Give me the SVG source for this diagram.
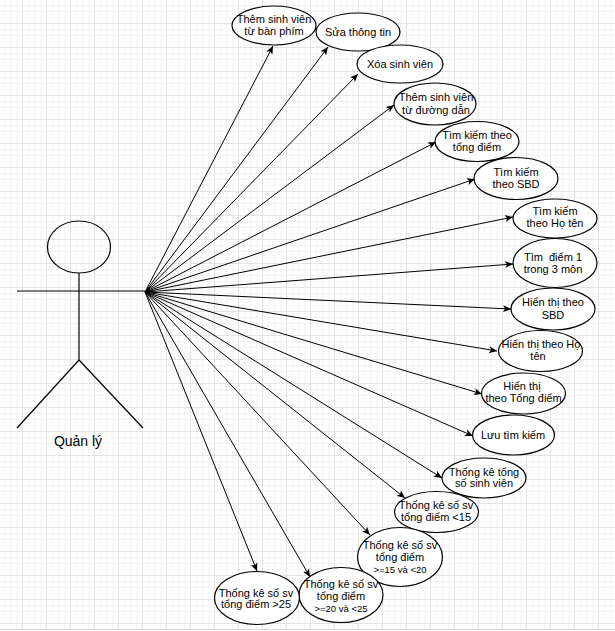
<svg xmlns="http://www.w3.org/2000/svg" width="615" height="631" viewBox="0 0 615 631">
<defs>
<pattern id="minor" x="22" y="23" width="6" height="6" patternUnits="userSpaceOnUse">
<rect x="0" y="0" width="1" height="6" fill="#f4f4f4"/>
<rect x="0" y="0" width="6" height="1" fill="#f4f4f4"/>
</pattern>
<pattern id="major" x="22" y="23" width="24" height="24" patternUnits="userSpaceOnUse">
<rect x="0" y="0" width="1" height="24" fill="#e3e3e3"/>
<rect x="0" y="0" width="24" height="1" fill="#e3e3e3"/>
</pattern>
<marker id="arr" viewBox="0 0 8 8" refX="8" refY="4" markerWidth="8" markerHeight="8" markerUnits="userSpaceOnUse" orient="auto">
<path d="M0,0.5 L8,4 L0,7.5 L2,4 z" fill="#000"/>
</marker>
</defs>
<style>
.uc ellipse{fill:#fff;stroke:#000;stroke-width:1.2}
.uc text,.lbl{font-family:"Liberation Sans",Arial,sans-serif;font-size:11px;fill:#000;text-anchor:middle}
.uc text.s{font-size:9.5px}
.conn line{stroke:#000;stroke-width:1;marker-end:url(#arr)}
.actor{fill:none;stroke:#000;stroke-width:1.2}
</style>
<rect width="615" height="631" fill="#fff"/>
<rect width="615" height="629" fill="url(#minor)"/>
<rect width="615" height="629" fill="url(#major)"/>
<rect x="0" y="629" width="615" height="1" fill="#d8d8d8"/>

<g id="actor">
<ellipse class="actor" cx="79" cy="247" rx="31.5" ry="26" fill="#fff"/>
<line class="actor" x1="79" y1="273" x2="79" y2="360"/>
<line class="actor" x1="17" y1="291" x2="145" y2="291"/>
<line class="actor" x1="79" y1="360" x2="17" y2="428"/>
<line class="actor" x1="79" y1="360" x2="143" y2="428"/>
<text class="lbl" x="78" y="446" style="font-size:14px">Quản lý</text>
</g>

<g id="connectors" class="conn">
<line x1="145" y1="292" x2="273" y2="46"/>
<line x1="145" y1="292" x2="328" y2="47"/>
<line x1="145" y1="292" x2="358" y2="74"/>
<line x1="145" y1="292" x2="394" y2="105"/>
<line x1="145" y1="292" x2="436" y2="142"/>
<line x1="145" y1="292" x2="475" y2="179"/>
<line x1="145" y1="292" x2="513" y2="217"/>
<line x1="145" y1="292" x2="513" y2="264"/>
<line x1="145" y1="292" x2="511" y2="309"/>
<line x1="145" y1="292" x2="497" y2="351"/>
<line x1="145" y1="292" x2="482" y2="394"/>
<line x1="145" y1="292" x2="473" y2="436"/>
<line x1="145" y1="292" x2="442" y2="478"/>
<line x1="145" y1="292" x2="405" y2="498"/>
<line x1="145" y1="292" x2="370" y2="535"/>
<line x1="145" y1="292" x2="310" y2="577"/>
<line x1="145" y1="292" x2="257" y2="571"/>
</g>

<g id="uc1" class="uc"><ellipse cx="274" cy="25.5" rx="42" ry="19.5"/><text x="274" y="22.5">Thêm sinh viên</text><text x="274" y="35">từ bàn phím</text></g>
<g id="uc2" class="uc"><ellipse cx="358" cy="32" rx="42" ry="19"/><text x="358" y="36">Sửa thông tin</text></g>
<g id="uc3" class="uc"><ellipse cx="400" cy="64" rx="43" ry="19"/><text x="400" y="68">Xóa sinh viên</text></g>
<g id="uc4" class="uc"><ellipse cx="435" cy="104" rx="41" ry="21"/><text x="436" y="101">Thêm sinh viên</text><text x="436" y="113.5">từ đường dẫn</text></g>
<g id="uc5" class="uc"><ellipse cx="477" cy="141.5" rx="42" ry="20"/><text x="477" y="139">Tìm kiếm theo</text><text x="477" y="150.5">tổng điểm</text></g>
<g id="uc6" class="uc"><ellipse cx="516" cy="178.5" rx="42" ry="21"/><text x="516" y="175.5">Tìm kiếm</text><text x="516" y="187.5">theo SBD</text></g>
<g id="uc7" class="uc"><ellipse cx="555" cy="218.5" rx="42" ry="19.5"/><text x="555" y="214.5">Tìm kiếm</text><text x="555" y="226.5">theo Họ tên</text></g>
<g id="uc8" class="uc"><ellipse cx="555" cy="263" rx="42" ry="24.5"/><text x="553" y="260.5" xml:space="preserve">Tìm  điểm 1</text><text x="553" y="273">trong 3 môn</text></g>
<g id="uc9" class="uc"><ellipse cx="553" cy="309" rx="42" ry="21"/><text x="553" y="306">Hiển thị theo</text><text x="553" y="318.5">SBD</text></g>
<g id="uc10" class="uc"><ellipse cx="540.5" cy="351" rx="42" ry="20.5"/><text x="541" y="348">Hiển thị theo Họ</text><text x="538" y="360">tên</text></g>
<g id="uc11" class="uc"><ellipse cx="523.5" cy="393.5" rx="42" ry="20.5"/><text x="522" y="390">Hiển thị</text><text x="523.5" y="402">theo Tổng điểm</text></g>
<g id="uc12" class="uc"><ellipse cx="513.5" cy="435" rx="41" ry="20"/><text x="513" y="439">Lưu tìm kiếm</text></g>
<g id="uc13" class="uc"><ellipse cx="484" cy="478" rx="42" ry="20"/><text x="484" y="475.5">Thống kê tổng</text><text x="484" y="487">số sinh viên</text></g>
<g id="uc14" class="uc"><ellipse cx="436.5" cy="512" rx="42" ry="20.5"/><text x="436" y="509">Thống kê số sv</text><text x="436" y="521">tổng điểm &lt;15</text></g>
<g id="uc15" class="uc"><ellipse cx="400" cy="557" rx="42.5" ry="29.5"/><text x="400" y="549">Thống kê số sv</text><text x="400" y="561">tổng điểm</text><text class="s" x="400" y="572.5">&gt;=15 và &lt;20</text></g>
<g id="uc16" class="uc"><ellipse cx="341" cy="595" rx="42" ry="27.5"/><text x="341" y="588">Thống kê số sv</text><text x="341" y="600">tổng điểm</text><text class="s" x="341" y="611.5">&gt;=20 và &lt;25</text></g>
<g id="uc17" class="uc"><ellipse cx="257" cy="598" rx="42.5" ry="26.5"/><text x="256" y="596.5">Thống kê số sv</text><text x="256" y="608">tổng điểm &gt;25</text></g>
</svg>
